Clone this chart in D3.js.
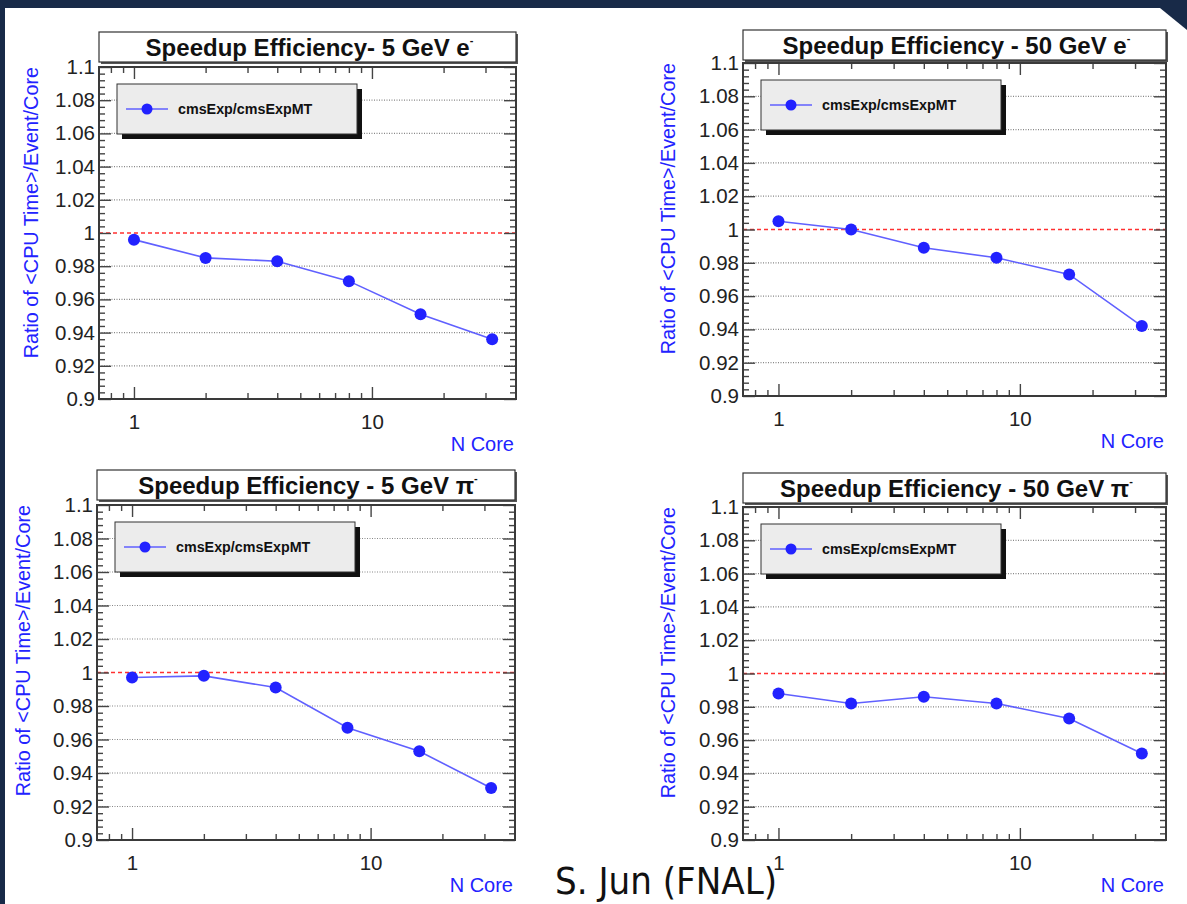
<!DOCTYPE html>
<html lang="en">
<head>
<meta charset="UTF-8">
<script src="https://cdn.jsdelivr.net/npm/d3@7"></script>
<title>Speedup Efficiency</title>
<style>
    body { margin: 0; background: #182a48; }
    svg text { font-family: "Liberation Sans", Arial, sans-serif; }
    .tick text { fill: #222; font-size: 20.5px; }
</style>
</head>
<body>
<svg id="chart" width="1187" height="904"></svg>
<script>
// values
const nCores = [1, 2, 4, 8, 16, 32];
const ratio5GeVe = [0.996, 0.985, 0.983, 0.971, 0.951, 0.936];
const ratio50GeVe = [1.005, 1.000, 0.989, 0.983, 0.973, 0.942];
const ratio5GeVpi = [0.997, 0.998, 0.991, 0.967, 0.953, 0.931];
const ratio50GeVpi = [0.988, 0.982, 0.986, 0.982, 0.973, 0.952];

const titles = ["Speedup Efficiency- 5 GeV ", "Speedup Efficiency - 50 GeV ",
                "Speedup Efficiency - 5 GeV ", "Speedup Efficiency - 50 GeV "];
const particles = ["e", "e", "\u03c0", "\u03c0"];
const yMajor = [0.9, 0.92, 0.94, 0.96, 0.98, 1, 1.02, 1.04, 1.06, 1.08, 1.1];
const yLabels = ["0.9", "0.92", "0.94", "0.96", "0.98", "1", "1.02", "1.04", "1.06", "1.08", "1.1"];
const xMajor = [1, 10];
const legendLabel = "cmsExp/cmsExpMT";
const yTitle = "Ratio of <CPU Time>/Event/Core";
const xTitle = "N Core";
const credit = "S. Jun (FNAL)";

const series = [ratio5GeVe, ratio50GeVe, ratio5GeVpi, ratio50GeVpi];

// where each pad sits on the slide
const pads = [
    {x0: 99,  x1: 516,  y0: 67,  y1: 399, ty: 32,  ytx: 31},
    {x0: 743, x1: 1166, y0: 63,  y1: 396, ty: 30,  ytx: 668},
    {x0: 97,  x1: 515,  y0: 505, y1: 840, ty: 470, ytx: 23},
    {x0: 743, x1: 1166, y0: 507, y1: 840, ty: 473, ytx: 668}
];

const blue = "#2222ff";
const svg = d3.select("#chart");

// slide background: navy frame with white body
svg.append("rect").attr("width", 1187).attr("height", 904).attr("fill", "#182a48");
svg.append("path")
    .attr("d", "M5,8 H1160 L1187,30 V904 H5 Z")
    .attr("fill", "white");

const yMinor = d3.range(0, 51).map(i => 0.9 + i * 0.004)
    .filter(v => !yMajor.some(m => Math.abs(m - v) < 1e-6));

pads.forEach((p, i) => {
    const data = nCores.map((n, j) => ({n: n, r: series[i][j]}));

    const x = d3.scaleLog().domain([0.713, 40.3]).range([p.x0, p.x1]);
    const y = d3.scaleLinear().domain([0.9, 1.1]).range([p.y1, p.y0]);
    const xMinor = x.ticks().filter(v => !xMajor.includes(v));

    const g = svg.append("g");

    // title box
    g.append("rect")
        .attr("x", p.x0 + 2).attr("y", p.ty + 2)
        .attr("width", p.x1 - p.x0).attr("height", 30)
        .attr("fill", "#555");
    g.append("rect")
        .attr("x", p.x0).attr("y", p.ty)
        .attr("width", p.x1 - p.x0).attr("height", 30)
        .attr("fill", "white").attr("stroke", "#333").attr("stroke-width", 1.2);
    const t = g.append("text")
        .attr("x", (p.x0 + p.x1) / 2 + 2).attr("y", p.ty + 24)
        .attr("text-anchor", "middle")
        .style("font-size", "24px").style("font-weight", "bold").attr("fill", "#111");
    t.append("tspan").text(titles[i] + particles[i]);
    t.append("tspan").text("-").style("font-size", "11px").attr("dy", -12);

    // grid
    g.selectAll(".grid")
        .data(yMajor.filter(v => v > 0.9 && v < 1.1 && v !== 1))
        .enter().append("line")
        .attr("x1", p.x0).attr("x2", p.x1)
        .attr("y1", d => y(d)).attr("y2", d => y(d))
        .attr("stroke", "#888").attr("stroke-width", 1.2)
        .attr("stroke-dasharray", "1,1.5");

    g.append("line")
        .attr("x1", p.x0).attr("x2", p.x1)
        .attr("y1", y(1)).attr("y2", y(1))
        .attr("stroke", "#ff3030").attr("stroke-width", 1.5)
        .attr("stroke-dasharray", "4,3");

    // axes, ticks pointing inwards
    const fmt = v => yLabels[yMajor.findIndex(m => Math.abs(m - v) < 1e-6)];
    const axes = [
        [d3.axisLeft(y).tickValues(yMajor).tickSize(-12).tickPadding(4).tickFormat(fmt), `translate(${p.x0},0)`],
        [d3.axisLeft(y).tickValues(yMinor).tickSize(-6).tickFormat(""), `translate(${p.x0},0)`],
        [d3.axisRight(y).tickValues(yMajor).tickSize(-12).tickFormat(""), `translate(${p.x1},0)`],
        [d3.axisRight(y).tickValues(yMinor).tickSize(-6).tickFormat(""), `translate(${p.x1},0)`],
        [d3.axisBottom(x).tickValues(xMajor).tickSize(-12).tickPadding(15).tickFormat(d3.format("d")), `translate(0,${p.y1})`],
        [d3.axisBottom(x).tickValues(xMinor).tickSize(-6).tickFormat(""), `translate(0,${p.y1})`],
        [d3.axisTop(x).tickValues(xMajor).tickSize(-12).tickFormat(""), `translate(0,${p.y0})`],
        [d3.axisTop(x).tickValues(xMinor).tickSize(-6).tickFormat(""), `translate(0,${p.y0})`]
    ];
    axes.forEach(([ax, tr]) => {
        const a = g.append("g").attr("transform", tr).call(ax.tickSizeOuter(0));
        a.select(".domain").remove();
        a.selectAll("line").attr("stroke", "#444").attr("stroke-width", 1.4);
        a.attr("font-family", null).attr("font-size", null);
    });

    g.append("rect")
        .attr("x", p.x0).attr("y", p.y0)
        .attr("width", p.x1 - p.x0).attr("height", p.y1 - p.y0)
        .attr("fill", "none").attr("stroke", "#3a3a3a").attr("stroke-width", 2);

    // axis titles
    g.append("text")
        .attr("transform", `translate(${p.ytx},${p.y0}) rotate(-90)`)
        .attr("dy", "0.35em").attr("text-anchor", "end")
        .style("font-size", "19.8px").attr("fill", blue)
        .text(yTitle);
    g.append("text")
        .attr("x", p.x1 - 2).attr("y", p.y1 + 52)
        .attr("text-anchor", "end")
        .style("font-size", "20px").attr("fill", blue)
        .text(xTitle);

    // legend
    const lx = p.x0 + 18, ly = p.y0 + 17;
    g.append("rect").attr("x", lx + 5).attr("y", ly + 5).attr("width", 240).attr("height", 50).attr("fill", "#111");
    g.append("rect").attr("x", lx).attr("y", ly).attr("width", 240).attr("height", 50)
        .attr("fill", "#ececec").attr("stroke", "#333").attr("stroke-width", 1);
    g.append("line").attr("x1", lx + 9).attr("x2", lx + 51).attr("y1", ly + 25).attr("y2", ly + 25)
        .attr("stroke", "#6060ff").attr("stroke-width", 1.6);
    g.append("circle").attr("cx", lx + 30).attr("cy", ly + 25).attr("r", 5.5).attr("fill", blue);
    g.append("text").attr("x", lx + 61).attr("y", ly + 25).attr("dy", "0.35em")
        .style("font-size", "14.3px").style("font-weight", "bold").attr("fill", "#111")
        .text(legendLabel);

    // data
    const line = d3.line().x(d => x(d.n)).y(d => y(d.r));
    g.append("path").datum(data)
        .attr("d", line).attr("fill", "none")
        .attr("stroke", "#6060ff").attr("stroke-width", 1.6);
    g.selectAll(".pt").data(data).enter().append("circle")
        .attr("cx", d => x(d.n)).attr("cy", d => y(d.r))
        .attr("r", 6).attr("fill", blue);
});

svg.append("text")
    .attr("x", 555).attr("y", 894)
    .style("font-family", "'DejaVu Sans Condensed', 'DejaVu Sans', sans-serif")
    .style("font-stretch", "condensed")
    .style("font-size", "38px").attr("fill", "#111")
    .text(credit);
</script>
</body>
</html>
